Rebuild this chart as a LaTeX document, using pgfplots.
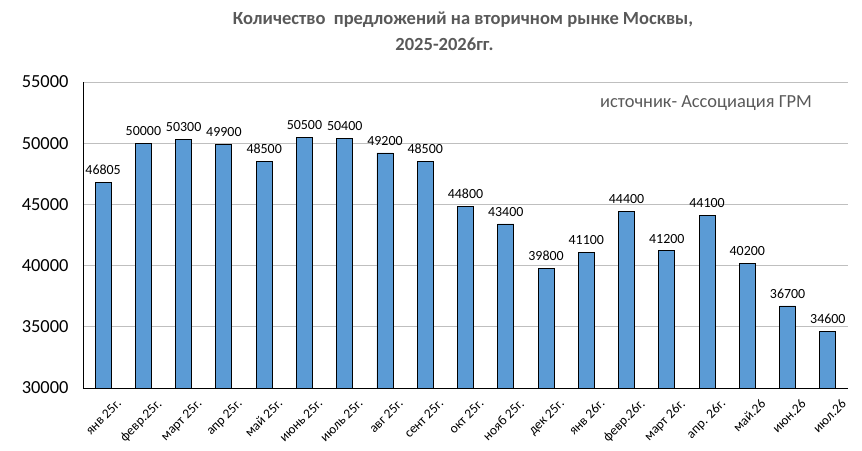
\documentclass[border=0pt]{standalone}
\usepackage{fontspec}
\setmainfont{Carlito}
\usepackage{pgfplots}
\pgfplotsset{compat=1.18}
\definecolor{barblue}{HTML}{5B9BD5}
\definecolor{titlegray}{HTML}{595959}
\definecolor{gridgray}{HTML}{BFBFBF}
\begin{document}
\begin{tikzpicture}
\useasboundingbox (-83bp,-63bp) rectangle (779bp,388bp);
\begin{axis}[
  scale only axis,
  width=765bp, height=306bp,
  xmin=-0.5, xmax=18.5,
  ymin=30000, ymax=55000,
  ytick={30000,35000,40000,45000,50000,55000},
  scaled y ticks=false,
  ymajorgrids, grid style={gridgray, line width=0.8bp},
  axis x line=bottom, axis y line=left,
  axis line style={black, line width=0.9bp, -},
  major tick length=0pt,
  /pgf/number format/assume math mode=true,
  /pgf/number format/1000 sep={},
  yticklabel style={font=\fontsize{18.5}{20}\selectfont, xshift=-11bp},
  xtick=data,
  xticklabels={янв 25г., февр.25г., март 25г., апр 25г., май 25г., июнь 25г., июль 25г., авг 25г., сент 25г., окт 25г., нояб 25г., дек 25г., янв 26г., февр.26г., март 26г., апр. 26г., май.26, июн.26, июл.26},
  xticklabel style={font=\fontsize{13.5}{14}\selectfont, rotate=45, anchor=north east, inner sep=0pt, xshift=2bp, yshift=-16bp},
  ybar, bar width=16bp,
  nodes near coords,
  nodes near coords style={font=\fontsize{14}{15}\selectfont, black, yshift=4bp},
  clip=false,
]
\addplot[fill=barblue, draw=black, line width=0.9bp] coordinates {
(0,46805) (1,50000) (2,50300) (3,49900) (4,48500) (5,50500) (6,50400) (7,49200) (8,48500) (9,44800) (10,43400) (11,39800) (12,41100) (13,44400) (14,41200) (15,44100) (16,40200) (17,36700) (18,34600)
};
\end{axis}
\node[font=\fontsize{18.6}{20}\selectfont\bfseries, text=titlegray] at (380bp,368bp) {Количество\ \ предложений на вторичном рынке Москвы,};
\node[font=\fontsize{18.6}{20}\selectfont\bfseries, text=titlegray] at (361.5bp,344bp) {2025-2026гг.};
\node[font=\fontsize{18.5}{20}\selectfont, text=titlegray] at (623bp,285bp) {источник- Ассоциация ГРМ};
\end{tikzpicture}
\end{document}
